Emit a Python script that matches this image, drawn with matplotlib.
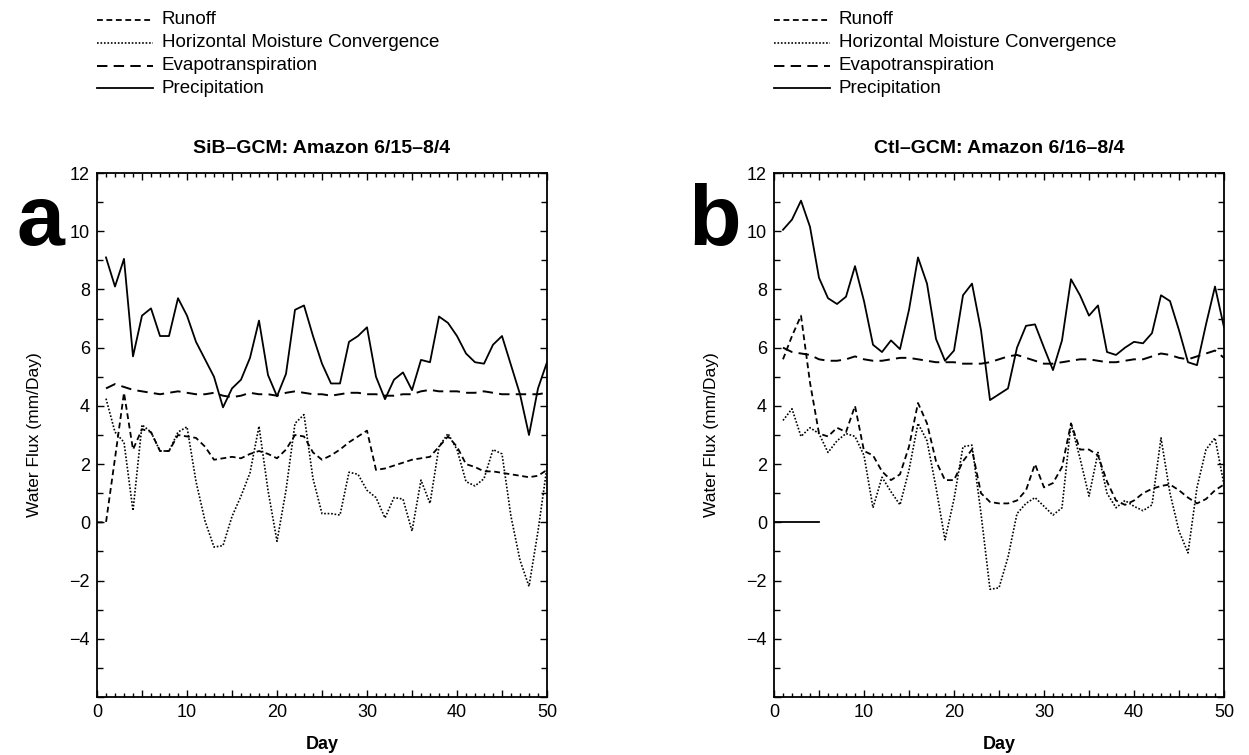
import numpy as np
import matplotlib
matplotlib.use('Agg')
import matplotlib.pyplot as plt
from matplotlib.lines import Line2D
from matplotlib.ticker import MultipleLocator, FuncFormatter

plt.rcParams['font.family'] = ['Liberation Sans', 'DejaVu Sans']
plt.rcParams['lines.scale_dashes'] = False

# ---- daily water budget terms (mm/day) ----
days = list(range(1, 51))
runoff_days_sib = list(range(0, 51))

sib_precip = [9.1, 8.1, 9.05, 5.7, 7.1, 7.35, 6.4, 6.4, 7.7, 7.1,
              6.2, 5.6, 5.0, 3.95, 4.6, 4.9, 5.65, 6.93, 5.06, 4.33,
              5.1, 7.3, 7.45, 6.4, 5.45, 4.77, 4.77, 6.2, 6.4, 6.7,
              5.0, 4.23, 4.9, 5.15, 4.54, 5.58, 5.5, 7.07, 6.85, 6.4,
              5.8, 5.5, 5.45, 6.1, 6.4, 5.4, 4.4, 3.0, 4.6, 5.5]
sib_evap = [4.6, 4.75, 4.65, 4.55, 4.5, 4.45, 4.4, 4.45, 4.5, 4.45,
            4.4, 4.4, 4.45, 4.35, 4.3, 4.35, 4.45, 4.4, 4.4, 4.35,
            4.45, 4.5, 4.45, 4.4, 4.4, 4.35, 4.4, 4.45, 4.45, 4.4,
            4.4, 4.35, 4.35, 4.4, 4.4, 4.5, 4.55, 4.5, 4.5, 4.5,
            4.45, 4.45, 4.5, 4.45, 4.4, 4.4, 4.4, 4.4, 4.4, 4.45]
sib_runoff = [0.0, 0.0, 2.2, 4.45, 2.5, 3.2, 3.1, 2.45, 2.45, 3.0, 2.95,
              2.9, 2.6, 2.15, 2.2, 2.25, 2.2, 2.35, 2.45, 2.35, 2.2,
              2.5, 3.0, 2.95, 2.4, 2.15, 2.3, 2.5, 2.75, 2.95, 3.15,
              1.8, 1.85, 1.95, 2.05, 2.15, 2.2, 2.25, 2.6, 2.95, 2.6,
              2.0, 1.9, 1.75, 1.75, 1.7, 1.65, 1.6, 1.55, 1.6, 1.8]
sib_hmc = [4.25, 3.1, 2.75, 0.4, 3.35, 3.1, 2.45, 2.45, 3.1, 3.28,
           1.4, 0.05, -0.85, -0.8, 0.2, 0.9, 1.7, 3.3, 1.1, -0.65,
           1.1, 3.4, 3.7, 1.5, 0.3, 0.3, 0.25, 1.72, 1.65, 1.1,
           0.85, 0.15, 0.85, 0.8, -0.3, 1.45, 0.65, 2.6, 3.05, 2.5,
           1.4, 1.25, 1.5, 2.5, 2.35, 0.2, -1.3, -2.2, -0.3, 1.9]

ctl_precip = [10.05, 10.4, 11.05, 10.15, 8.4, 7.7, 7.5, 7.75, 8.8, 7.6,
              6.1, 5.85, 6.25, 5.95, 7.3, 9.1, 8.2, 6.3, 5.55, 5.9,
              7.8, 8.2, 6.6, 4.2, 4.4, 4.6, 6.0, 6.75, 6.8, 6.0,
              5.23, 6.25, 8.35, 7.8, 7.1, 7.45, 5.85, 5.75, 6.0, 6.2,
              6.15, 6.5, 7.8, 7.6, 6.6, 5.5, 5.4, 6.8, 8.1, 6.7]
ctl_evap = [6.0, 5.85, 5.8, 5.75, 5.6, 5.55, 5.55, 5.6, 5.7, 5.6,
            5.55, 5.55, 5.6, 5.65, 5.65, 5.6, 5.55, 5.5, 5.5, 5.5,
            5.45, 5.45, 5.45, 5.5, 5.6, 5.7, 5.75, 5.65, 5.55, 5.45,
            5.45, 5.5, 5.55, 5.6, 5.6, 5.55, 5.5, 5.5, 5.55, 5.6,
            5.6, 5.7, 5.8, 5.75, 5.65, 5.6, 5.7, 5.8, 5.9, 5.65]
ctl_runoff = [5.6, 6.4, 7.1, 4.8, 3.05, 2.95, 3.25, 3.1, 4.0, 2.45,
              2.3, 1.75, 1.45, 1.65, 2.6, 4.1, 3.4, 2.1, 1.45, 1.45,
              2.1, 2.5, 1.0, 0.7, 0.65, 0.65, 0.75, 1.1, 2.0, 1.2,
              1.35, 1.9, 3.4, 2.5, 2.5, 2.3, 1.4, 0.75, 0.6, 0.75,
              1.0, 1.15, 1.25, 1.3, 1.1, 0.85, 0.65, 0.8, 1.1, 1.3]
ctl_hmc = [3.5, 3.9, 2.95, 3.25, 3.05, 2.4, 2.8, 3.05, 2.95, 2.3,
           0.5, 1.55, 1.05, 0.6, 1.8, 3.4, 2.8, 1.2, -0.6, 0.8,
           2.6, 2.65, 0.3, -2.3, -2.25, -1.2, 0.3, 0.65, 0.85, 0.55,
           0.25, 0.5, 3.4, 2.2, 0.9, 2.4, 1.0, 0.5, 0.75, 0.55,
           0.4, 0.6, 2.9, 1.0, -0.3, -1.05, 1.2, 2.5, 2.9, 1.3]
ctl_stub_days = [0, 5]
ctl_stub_vals = [0, 0]

legend_labels = ['Runoff', 'Horizontal Moisture Convergence',
                 'Evapotranspiration', 'Precipitation']

W, H = 1249, 755

STYLE = {
    'Runoff': dict(dashes=(4.2, 2.6), lw=1.3),
    'Horizontal Moisture Convergence': dict(dashes=(1.2, 1.3), lw=1.2),
    'Evapotranspiration': dict(dashes=(7.5, 4.5), lw=1.4),
    'Precipitation': dict(dashes=(None, None), lw=1.3),
}


def px(x, y):
    # pixel position (from top-left) -> figure fraction
    return x / W, 1 - y / H


def style_kw(name):
    s = STYLE[name]
    kw = dict(color='black', lw=s['lw'])
    if s['dashes'][0] is None:
        kw['linestyle'] = '-'
    else:
        kw['dashes'] = s['dashes']
    return kw


def draw_panel(fig, left, title, letter, series):
    x0, y0 = px(left, 697)
    ax = fig.add_axes([x0, y0, 450 / W, 524 / H])
    for name, xs, ys in series:
        ax.plot(xs, ys, **style_kw(name))

    ax.set_xlim(0, 50)
    ax.set_ylim(-6, 12)
    ax.xaxis.set_major_locator(MultipleLocator(5))
    ax.xaxis.set_minor_locator(MultipleLocator(1))
    ax.xaxis.set_major_formatter(FuncFormatter(
        lambda v, p: f'{int(v)}' if v % 10 == 0 else ''))
    ax.yaxis.set_major_locator(MultipleLocator(2))
    ax.yaxis.set_minor_locator(MultipleLocator(1))
    ax.yaxis.set_major_formatter(FuncFormatter(
        lambda v, p: '' if v <= -6 else f'{int(v)}'.replace('-', '\u2212')))
    ax.tick_params(which='both', direction='in', top=True, right=True,
                   width=1.0, labelsize=13)
    ax.tick_params(axis='x', which='major', length=5, pad=5)
    ax.tick_params(axis='x', which='minor', length=3)
    ax.tick_params(axis='y', which='major', length=5, pad=5)
    ax.tick_params(axis='y', which='minor', length=4)
    for sp in ax.spines.values():
        sp.set_linewidth(1.3)

    ax.set_ylabel('Water Flux (mm/Day)', fontsize=12.5, labelpad=20)

    dx, dy = px(left + 225, 749)
    fig.text(dx, dy, 'Day', ha='center', va='baseline',
             fontsize=13, fontweight='bold')

    tx, ty = px(left + 225, 153)
    fig.text(tx, ty, title, ha='center', va='baseline',
             fontsize=14, fontweight='bold')

    lx, ly = px(left - 33, 245)
    fig.text(lx, ly, letter, ha='right', va='baseline',
             fontsize=62, fontweight='bold')

    # key in the top margin
    for i, name in enumerate(legend_labels):
        yy = 20 + i * 22.8
        a = px(left, yy)
        b = px(left + 56, yy)
        fig.add_artist(Line2D([a[0], b[0]], [a[1], b[1]],
                              transform=fig.transFigure, **style_kw(name)))
        t = px(left + 65, yy)
        fig.text(t[0], t[1], name, ha='left', va='center', fontsize=13.5)
    return ax


fig = plt.figure(figsize=(W / 100, H / 100), dpi=100)

draw_panel(fig, 97, 'SiB\u2013GCM: Amazon 6/15\u20138/4', 'a', [
    ('Runoff', runoff_days_sib, sib_runoff),
    ('Horizontal Moisture Convergence', days, sib_hmc),
    ('Evapotranspiration', days, sib_evap),
    ('Precipitation', days, sib_precip),
])

draw_panel(fig, 774, 'Ctl\u2013GCM: Amazon 6/16\u20138/4', 'b', [
    ('Runoff', days, ctl_runoff),
    ('Horizontal Moisture Convergence', days, ctl_hmc),
    ('Evapotranspiration', days, ctl_evap),
    ('Precipitation', days, ctl_precip),
    ('Precipitation', ctl_stub_days, ctl_stub_vals),
])

fig.savefig('out.png', dpi=100)
